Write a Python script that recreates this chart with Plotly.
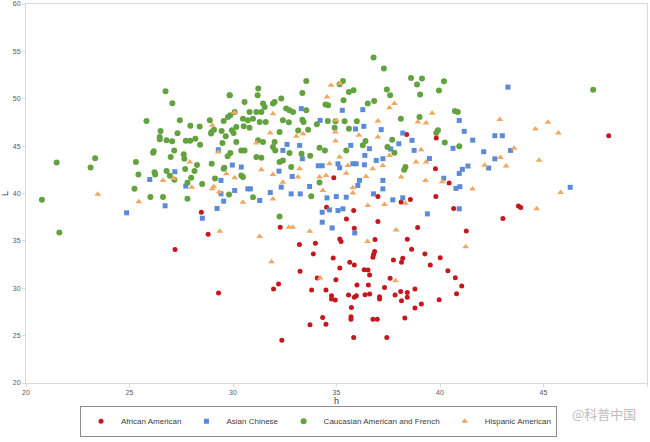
import plotly.graph_objects as go

aa_h = [32.28,33.21,33.98,33.88,33.24,31.96,32.20,33.80,34.07,34.49,34.76,34.76,34.94,34.97,35.16,34.84,35.16,35.22,35.48,35.83,35.86,35.64,35.86,36.34,36.52,36.60,35.99,36.54,35.58,35.86,35.96,36.38,36.60,37.08,37.08,37.32,37.59,37.75,38.14,38.20,36.76,36.79,36.84,36.86,37.00,37.00,38.12,38.57,38.42,38.63,38.92,39.27,39.53,40.01,40.38,40.74,41.05,40.80,39.96,39.10,38.79,38.30,38.14,38.42,38.42,38.79,37.83,38.10,35.72,35.70,35.70,34.33,34.49,33.72,36.76,36.97,35.83,37.43,32.36,40.44,39.80,40.66,41.27,34.52,
        39.82,39.78,43.79,43.90,43.04,48.15,28.47,28.80,27.2,29.3,34.87,38.39]
aa_L = [36.44,34.61,34.75,33.62,31.79,29.92,30.45,29.81,31.08,29.81,29.21,28.86,28.75,30.90,32.14,33.20,35.21,34.93,37.32,38.21,36.34,32.74,32.46,31.96,31.93,31.40,30.34,30.34,29.28,29.04,29.21,29.32,29.39,29.11,28.86,30.09,31.05,32.99,32.74,33.16,33.27,33.55,33.87,35.14,37.04,39.69,39.09,39.37,35.17,34.11,36.41,33.62,32.46,33.23,31.86,31.12,30.24,29.42,28.79,28.33,27.91,26.85,28.68,29.04,29.56,29.92,29.28,29.67,27.98,26.99,26.74,26.92,26.21,26.14,26.74,26.74,24.80,24.80,24.52,41.10,39.69,38.42,36.05,38.56,
        45.85,42.62,38.67,38.53,37.35,46.10,38.03,35.70,34.1,29.5,41.66,46.24]

ac_h = [27.19,25.98,27.72,26.72,24.86,28.52,29.23,29.55,29.42,30.08,29.97,29.29,29.42,
        33.30,34.21,35.28,36.27,35.92,36.32,37.16,38.20,38.65,38.75,38.01,37.62,35.69,36.59,36.37,36.92,37.24,35.79,35.95,35.07,34.31,34.12,35.15,36.35,32.61,32.41,33.22,33.35,32.86,33.70,32.33,31.80,31.29,30.84,30.72,30.40,32.22,32.81,33.25,34.54,34.99,35.47,36.11,36.03,37.24,37.24,36.79,37.72,38.20,34.31,34.66,35.07,35.31,39.39,
        43.28,40.93,41.17,41.58,42.65,43.01,40.63,42.11,43.41,42.65,42.35,41.35,41.08,40.93,40.18,40.77,40.96,40.93,46.29,39.49,
        34.79,35.88,34.31]
ac_L = [42.30,41.48,40.78,38.70,37.96,37.39,38.42,39.19,39.97,40.32,43.00,44.62,41.38,
        48.96,47.72,48.78,48.85,46.81,47.09,46.74,46.38,45.61,44.55,45.25,44.69,45.08,44.73,44.02,43.49,43.67,43.14,43.14,43.14,42.93,42.93,42.72,43.03,45.18,44.55,45.08,43.67,41.80,40.74,40.67,40.10,39.26,40.49,40.49,42.79,42.36,39.96,39.96,39.54,39.68,39.61,41.38,40.85,41.38,40.49,39.96,39.33,39.54,38.02,38.27,38.20,38.38,37.85,
        51.23,47.71,46.56,45.63,46.10,46.10,44.77,44.41,44.55,43.66,42.69,42.90,42.55,42.12,41.61,40.54,40.72,38.39,40.65,43.69,
        36.37,35.84,36.97]

cf_h = [26.74,27.07,29.84,25.82,27.43,27.94,28.39,28.88,29.55,29.76,29.87,26.50,26.46,26.46,26.79,27.06,27.32,27.72,27.93,28.18,28.41,28.96,29.08,28.94,29.45,29.49,29.65,29.95,30.03,26.17,26.14,27.16,26.99,27.62,27.65,28.26,28.97,29.55,29.74,29.87,25.31,25.43,26.21,26.24,26.79,26.95,27.17,27.69,27.98,28.14,28.51,27.80,29.13,29.58,25.24,26.01,26.62,27.80,29.81,21.48,23.12,23.34,20.77,21.61,
        36.79,37.29,38.60,39.13,38.89,39.04,37.43,37.59,36.51,36.82,35.60,35.82,35.34,35.31,35.15,34.60,34.47,33.54,33.35,32.33,32.01,31.93,31.45,31.22,31.19,30.56,30.08,29.84,30.80,31.13,31.37,31.53,32.57,32.73,32.90,33.54,33.35,33.41,32.70,33.15,33.63,34.05,34.58,34.95,35.39,35.98,35.60,34.91,34.18,34.44,35.47,36.40,36.27,37.69,38.11,39.01,37.46,37.80,38.33,38.27,30.16,30.52,30.80,30.16,30.40,30.56,31.21,31.45,32.01,32.25,32.41,31.58,31.29,30.97,30.72,30.48,31.13,31.37,31.93,32.04,32.41,32.81,32.25,32.73,33.31,33.73,30.40,30.48,30.97,32.25,33.78,34.18,
        40.19,39.95,40.72,40.86,39.90,39.82,40.23,40.93,47.40]
cf_L = [50.80,49.53,50.37,47.66,47.73,47.16,47.06,47.73,47.66,48.08,48.26,46.60,45.96,45.72,45.61,45.51,46.35,45.58,45.58,45.79,45.15,46.49,46.74,46.32,46.60,45.33,46.03,46.67,46.39,44.45,44.31,44.55,43.85,44.13,43.67,43.00,43.14,42.61,43.92,44.27,43.32,42.01,42.23,42.01,42.37,41.87,41.45,42.58,41.66,42.37,40.99,41.13,41.59,42.72,40.50,39.62,39.62,39.44,39.90,43.28,42.75,43.71,39.33,35.88,
        54.35,53.19,52.20,52.13,51.50,50.44,50.97,50.37,49.49,49.77,50.72,50.90,49.84,51.88,51.53,49.31,49.38,51.88,50.62,50.02,49.66,49.49,49.49,51.07,50.37,49.66,48.61,50.37,48.61,48.61,48.61,49.13,48.96,48.78,48.61,48.78,47.79,47.55,47.51,46.66,46.74,47.30,47.65,47.62,47.62,47.62,46.84,46.95,44.83,44.55,44.55,45.54,45.08,45.68,47.90,48.08,44.90,44.30,42.79,42.50,47.02,47.09,46.95,45.43,44.55,44.55,45.61,45.43,45.43,46.49,47.72,47.55,47.55,47.90,47.72,47.90,43.84,43.77,44.90,44.55,43.49,42.79,43.32,44.27,44.20,43.98,41.90,41.73,39.61,37.57,39.72,41.16,
        51.84,50.87,48.72,48.61,46.67,46.38,45.38,44.99,50.94]

ha_h = [23.47,25.45,26.62,27.14,27.91,28.01,29.00,29.07,29.33,29.36,29.00,29.29,29.68,30.08,
        34.74,35.18,34.54,31.93,34.99,34.95,34.95,36.08,37.00,37.00,37.80,37.56,38.93,39.33,39.09,31.13,31.80,33.06,33.38,35.15,35.55,34.66,34.50,35.47,36.43,36.75,37.24,37.56,38.12,38.84,39.33,39.30,33.22,33.14,31.93,31.37,30.08,30.48,31.93,32.41,34.18,34.34,35.79,35.79,36.51,37.32,38.33,
        39.62,42.89,45.21,44.61,45.72,43.58,42.92,42.16,43.20,44.79,40.11,41.57,45.83,44.67,41.24,
        32.70,32.89,33.71,31.29,31.86,34.21,37.85,37.88,36.50]
ha_L = [39.93,39.12,41.38,41.59,43.32,40.67,40.50,40.74,40.15,36.02,47.20,44.38,42.08,48.54,
        51.43,51.60,50.19,48.43,47.72,46.49,45.54,46.14,47.65,45.96,49.49,49.06,47.55,47.44,44.62,45.33,46.38,46.03,46.31,43.84,42.96,43.14,41.90,42.15,41.80,42.61,42.96,44.02,41.73,43.32,43.32,41.38,42.61,41.73,42.01,42.50,41.66,39.08,39.43,41.20,41.73,40.32,40.60,40.04,38.73,38.84,38.98,
        48.46,47.82,47.53,46.81,46.38,44.77,43.80,42.98,42.90,43.51,41.25,40.47,40.11,38.39,34.37,
        36.44,36.44,36.02,35.45,32.81,31.08,30.80,36.16,34.93]

series = [
    ("African American", aa_h, aa_L, "circle", "#c8161d", 5),
    ("Asian Chinese", ac_h, ac_L, "square", "#5b8bd8", 5),
    ("Caucasian American and French", cf_h, cf_L, "circle", "#62a33f", 6),
    ("Hispanic American", ha_h, ha_L, "triangle-up", "#f0a860", 6),
]

fig = go.Figure()
for name, xs, ys, sym, col, sz in series:
    fig.add_trace(go.Scatter(x=xs, y=ys, mode="markers", name=name,
                             marker=dict(symbol=sym, color=col, size=sz, line=dict(width=0))))

axis_common = dict(showgrid=False, zeroline=False, showline=True, linecolor="#d9d9d9",
                   mirror=True, ticks="outside", ticklen=3, tickcolor="#d9d9d9", automargin=False,
                   tickfont=dict(family="Liberation Sans", size=7, color="#595959"))
fig.update_xaxes(range=[20, 50], dtick=5, title=dict(text="h", font=dict(size=9, color="#404040"), standoff=4), **axis_common)
fig.update_yaxes(range=[20, 60], dtick=5, title=dict(text="L", font=dict(size=9, color="#404040"), standoff=2), **axis_common)

fig.update_layout(
    width=650, height=442, paper_bgcolor="white", plot_bgcolor="white",
    margin=dict(l=26, r=3, t=4, b=59),
    font=dict(family="Liberation Sans"),
    legend=dict(orientation="h", x=0.49, xanchor="center", xref="container",
                y=0.012, yanchor="bottom", yref="container",
                bordercolor="#8c8c8c", borderwidth=1, font=dict(size=8, color="#404040"),
                itemwidth=30, tracegroupgap=0),
    annotations=[dict(text="@科普中国", x=0.985, y=-0.05, xref="paper", yref="paper",
                      xanchor="right", yanchor="top", showarrow=False,
                      font=dict(family="Noto Sans CJK SC", size=13, color="#bdbdbd"))],
)
fig.write_html("out.html", config={"displayModeBar": False},
               post_script="document.body.style.margin='0';document.body.style.overflow='hidden';")
